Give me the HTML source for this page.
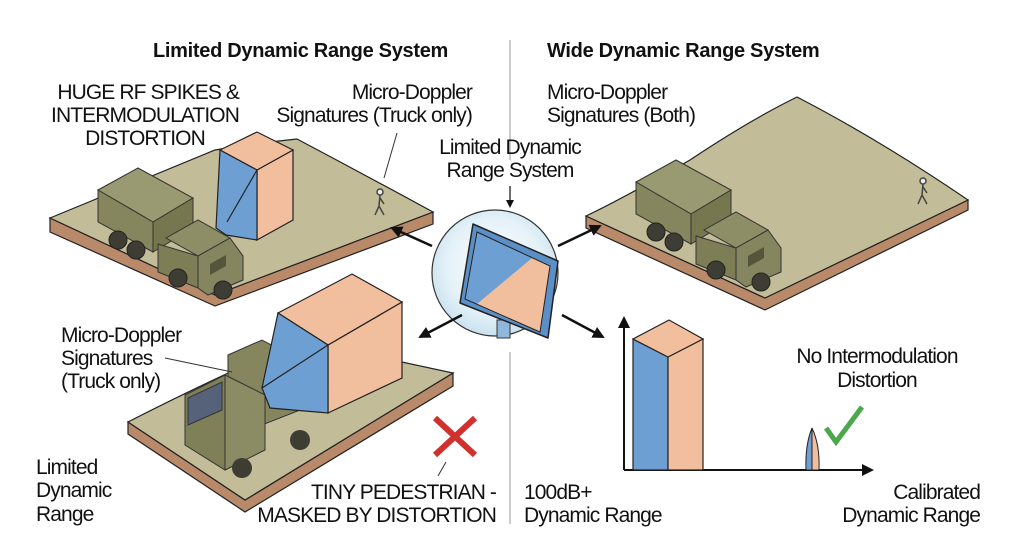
<!DOCTYPE html>
<html><head><meta charset="utf-8"><style>
html,body{margin:0;padding:0;background:#fff;}
svg{display:block;}
text{font-family:"Liberation Sans",sans-serif;fill:#111;}
.t{font-size:21px;letter-spacing:-0.9px;}
.b{font-size:20px;font-weight:bold;letter-spacing:-0.3px;}
</style></head><body>
<svg width="1018" height="546" viewBox="0 0 1018 546" xmlns="http://www.w3.org/2000/svg">
<defs>
<radialGradient id="cg" cx="50%" cy="45%" r="55%"><stop offset="0" stop-color="#ffffff"/><stop offset="0.7" stop-color="#e4f1f8"/><stop offset="1" stop-color="#c9e2ef"/></radialGradient>
<marker id="ah" markerWidth="8" markerHeight="8" refX="6" refY="4" orient="auto" markerUnits="userSpaceOnUse"><path d="M0,0 L8,4 L0,8 z" fill="#111"/></marker>
<marker id="ah2" markerWidth="12" markerHeight="12" refX="10" refY="6" orient="auto" markerUnits="userSpaceOnUse"><path d="M0,0 L12,6 L0,12 z" fill="#111"/></marker>
<g id="truckA">
  <polygon points="0,30 40,8 95,38 55,62" fill="#9a9a72" stroke="#333" stroke-width="1"/>
  <polygon points="0,30 55,62 55,92 0,62" fill="#85855e" stroke="#333" stroke-width="1"/>
  <polygon points="55,62 95,38 95,68 55,92" fill="#77774f" stroke="#333" stroke-width="1"/>
  <polygon points="68,78 100,60 132,78 100,96" fill="#8e8e66" stroke="#333" stroke-width="1"/>
  <polygon points="60,84 100,96 100,128 60,112" fill="#7d7d56" stroke="#333" stroke-width="1"/>
  <polygon points="100,96 132,78 145,96 145,120 110,135 100,128" fill="#858560" stroke="#333" stroke-width="1"/>
  <polygon points="112,104 128,95 128,106 112,115" fill="#55553c"/>
  <circle cx="20" cy="80" r="9" fill="#3d3d33" stroke="#222"/>
  <circle cx="38" cy="90" r="9" fill="#3d3d33" stroke="#222"/>
  <circle cx="80" cy="118" r="9" fill="#3d3d33" stroke="#222"/>
  <circle cx="125" cy="130" r="9" fill="#3d3d33" stroke="#222"/>
</g>
</defs>

<line x1="510" y1="40" x2="510" y2="160" stroke="#aaa" stroke-width="1.2"/>
<line x1="510" y1="352" x2="510" y2="524" stroke="#aaa" stroke-width="1.2"/>

<text class="b" x="153" y="57">Limited Dynamic Range System</text>
<text class="b" x="547" y="57">Wide Dynamic Range System</text>

<polygon points="50,218 50,232 215,306 433,224 433,212 215,295" fill="#b88a6a" stroke="#222" stroke-width="1.2"/>
<path d="M50,218 Q130,185 215,150 Q250,144 297,139 Q365,175 433,212 L215,295 Z" fill="#c2bc98" stroke="#222" stroke-width="1.2"/>
<use href="#truckA" x="98" y="160"/>
<polygon points="257,240 293,220 293,150 257,170" fill="#f2bf9e" stroke="#222" stroke-width="1.2"/>
<polygon points="220,150 257,132 293,150 257,170" fill="#f2bf9e" stroke="#222" stroke-width="1.2"/>
<polygon points="220,150 257,170 257,240 226,235 216,228" fill="#6e9fd2" stroke="#222" stroke-width="1.2"/>
<line x1="227" y1="222" x2="257" y2="170" stroke="#222" stroke-width="1.2"/>
<g stroke="#444" stroke-width="1.5" fill="none"><circle cx="380" cy="192" r="3" fill="#eee"/><path d="M380,195 L379,206 L375,215 M379,206 L384,215 M380,198 L384,204"/></g>

<polygon points="586,216 586,228 765,310 968,210 968,200 765,298" fill="#b88a6a" stroke="#222" stroke-width="1.2"/>
<path d="M586,216 Q620,200 690,160 Q750,120 797,97 Q880,140 968,200 L765,298 Z" fill="#c2bc98" stroke="#222" stroke-width="1.2"/>
<use href="#truckA" x="636" y="152"/>
<g stroke="#444" stroke-width="1.5" fill="none"><circle cx="923" cy="181" r="3" fill="#eee"/><path d="M923,184 L922,195 L918,204 M922,195 L927,204 M923,187 L927,193"/></g>

<polygon points="128,422 128,434 245,512 453,386 453,373 245,500" fill="#b88a6a" stroke="#222" stroke-width="1.2"/>
<path d="M128,422 Q200,385 300,340 L453,373 L245,500 Z" fill="#c2bc98" stroke="#222" stroke-width="1.2"/>
<polygon points="228,355 262,340 300,360 300,410 262,425 228,405" fill="#85855e" stroke="#333"/>
<polygon points="185,395 225,375 265,395 265,450 225,470 185,445" fill="#7f7f58" stroke="#333"/>
<polygon points="188,398 222,382 222,410 188,425" fill="#55627a" stroke="#333"/>
<polygon points="225,375 265,395 265,450 225,470" fill="#8c8c64" stroke="#333"/>
<circle cx="242" cy="468" r="10" fill="#3d3d33"/><circle cx="300" cy="440" r="10" fill="#3d3d33"/>
<polygon points="328,413 402,378 402,302 328,345" fill="#f2bf9e" stroke="#222" stroke-width="1.2"/>
<polygon points="278,313 352,274 402,302 328,345" fill="#f2bf9e" stroke="#222" stroke-width="1.2"/>
<polygon points="278,313 328,345 328,413 270,408 262,388" fill="#6e9fd2" stroke="#222" stroke-width="1.2"/>
<line x1="262" y1="388" x2="328" y2="345" stroke="#222" stroke-width="1.2"/>
<g stroke="#d0312d" stroke-width="6"><line x1="435" y1="418" x2="475" y2="455"/><line x1="475" y1="418" x2="435" y2="455"/></g>
<line x1="446" y1="462" x2="438" y2="476" stroke="#333" stroke-width="1"/>

<!-- centre antenna -->
<circle cx="495" cy="273" r="63" fill="url(#cg)" stroke="#333" stroke-width="1.2"/>
<rect x="497" y="320" width="13" height="18" fill="#8fb7dc" stroke="#333"/>
<polygon points="473,224 558,261 548,338 460,303" fill="#5b8fc6" stroke="#222" stroke-width="1.5" stroke-linejoin="round"/>
<polygon points="477,232 550,266 540,332 465,299" fill="#f2bf9e"/>
<polygon points="477,232 532,258 477,304 465,299" fill="#6e9fd2"/>
<polygon points="477,232 550,266 540,332 465,299" fill="none" stroke="#222" stroke-width="1"/>

<line x1="432" y1="246" x2="392" y2="228" stroke="#111" stroke-width="2.5" marker-end="url(#ah2)"/>
<line x1="558" y1="246" x2="600" y2="226" stroke="#111" stroke-width="2.5" marker-end="url(#ah2)"/>
<line x1="462" y1="315" x2="420" y2="337" stroke="#111" stroke-width="2.5" marker-end="url(#ah2)"/>
<line x1="562" y1="315" x2="603" y2="337" stroke="#111" stroke-width="2.5" marker-end="url(#ah2)"/>
<line x1="510" y1="186" x2="510" y2="206" stroke="#111" stroke-width="1.2" marker-end="url(#ah)"/>

<line x1="624" y1="470" x2="872" y2="470" stroke="#111" stroke-width="2" marker-end="url(#ah2)"/>
<line x1="624" y1="470" x2="624" y2="318" stroke="#111" stroke-width="2" marker-end="url(#ah2)"/>
<polygon points="633,339 668,357 668,470 633,470" fill="#6e9fd2" stroke="#222" stroke-width="1.2"/>
<polygon points="668,357 703,339 703,470 668,470" fill="#f2bf9e" stroke="#222" stroke-width="1.2"/>
<polygon points="633,339 669,320 703,339 668,357" fill="#f2bf9e" stroke="#222" stroke-width="1.2"/>
<path d="M812,428 Q805,445 806,470 L812,470 Z" fill="#6e9fd2" stroke="#222"/>
<path d="M812,428 Q820,445 819,470 L812,470 Z" fill="#f2bf9e" stroke="#222"/>
<path d="M826,428 L836,442 L862,407" fill="none" stroke="#4ca84a" stroke-width="5"/>

<g class="t">
<text x="239" y="99" text-anchor="end">HUGE RF SPIKES &amp;</text>
<text x="239" y="122" text-anchor="end">INTERMODULATION</text>
<text x="145" y="145" text-anchor="middle">DISTORTION</text>
<text x="472" y="99" text-anchor="end">Micro-Doppler</text>
<text x="472" y="122" text-anchor="end">Signatures (Truck only)</text>
<text x="510" y="154" text-anchor="middle">Limited Dynamic</text>
<text x="510" y="177" text-anchor="middle">Range System</text>
<text x="547" y="99">Micro-Doppler</text>
<text x="547" y="122">Signatures (Both)</text>
<text x="61" y="342">Micro-Doppler</text>
<text x="61" y="365">Signatures</text>
<text x="61" y="388">(Truck only)</text>
<text x="36" y="474">Limited</text>
<text x="36" y="497">Dynamic</text>
<text x="36" y="521">Range</text>
<text x="496" y="499" text-anchor="end">TINY PEDESTRIAN -</text>
<text x="496" y="522" text-anchor="end">MASKED BY DISTORTION</text>
<text x="524" y="499">100dB+</text>
<text x="524" y="522">Dynamic Range</text>
<text x="877" y="363" text-anchor="middle">No Intermodulation</text>
<text x="877" y="387" text-anchor="middle">Distortion</text>
<text x="980" y="499" text-anchor="end">Calibrated</text>
<text x="980" y="522" text-anchor="end">Dynamic Range</text>
</g>
<line x1="397" y1="133" x2="384" y2="178" stroke="#333" stroke-width="1"/>
<line x1="165" y1="358" x2="232" y2="372" stroke="#333" stroke-width="1"/>
</svg>
</body></html>
